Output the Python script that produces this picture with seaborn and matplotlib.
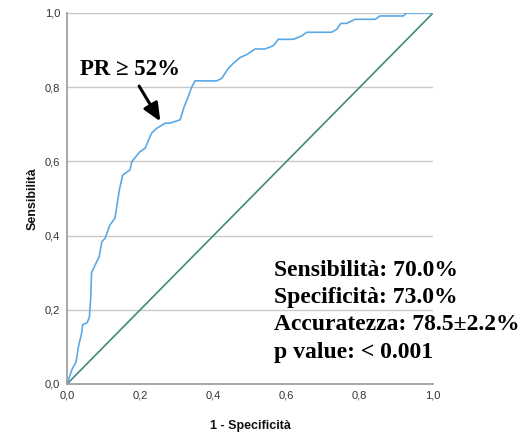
import matplotlib
matplotlib.use("Agg")
import matplotlib.pyplot as plt
import seaborn as sns
import pandas as pd

# ROC curve points (1 - specificity, sensitivity)
fpr = [0.0, 0.013, 0.025, 0.031, 0.040, 0.043, 0.055, 0.061, 0.065, 0.067, 0.079,
       0.088, 0.095, 0.104, 0.117, 0.131, 0.143, 0.152, 0.172, 0.177, 0.199, 0.213,
       0.231, 0.245, 0.268, 0.281, 0.309, 0.320, 0.331, 0.341, 0.350, 0.409, 0.423,
       0.441, 0.454, 0.473, 0.491, 0.514, 0.541, 0.564, 0.577, 0.618, 0.641, 0.655,
       0.723, 0.737, 0.748, 0.764, 0.787, 0.842, 0.855, 0.919, 0.928, 1.0]
tpr = [0.0, 0.038, 0.060, 0.100, 0.137, 0.160, 0.165, 0.180, 0.235, 0.300, 0.325,
       0.343, 0.383, 0.393, 0.428, 0.447, 0.523, 0.563, 0.577, 0.599, 0.626, 0.635,
       0.676, 0.689, 0.703, 0.703, 0.712, 0.747, 0.774, 0.801, 0.817, 0.817, 0.824,
       0.851, 0.864, 0.880, 0.888, 0.903, 0.903, 0.912, 0.929, 0.929, 0.938, 0.948,
       0.948, 0.956, 0.972, 0.972, 0.983, 0.983, 0.992, 0.992, 1.0, 1.0]

ref_x = [0.0, 1.0]
ref_y = [0.0, 1.0]

ticks = [0.0, 0.2, 0.4, 0.6, 0.8, 1.0]
tick_labels = ["0,0", "0,2", "0,4", "0,6", "0,8", "1,0"]

cutoff_label = "PR \u2265 52%"
cutoff_point = (0.255, 0.708)
stats_lines = ["Sensibilit\u00e0: 70.0%", "Specificit\u00e0: 73.0%",
               "Accuratezza: 78.5\u00b12.2%", "p value: < 0.001"]

sns.set_theme(style="white")
plt.rcParams["font.family"] = ["Liberation Sans", "DejaVu Sans"]

fig = plt.figure(figsize=(5.26, 4.36), dpi=100)
ax = fig.add_axes([0.1274, 0.1193, 0.6958, 0.8509])

roc = pd.DataFrame({"fpr": fpr, "tpr": tpr})
ref = pd.DataFrame({"x": ref_x, "y": ref_y})

for t in ticks[1:]:
    ax.plot([0, 1], [t, t], color="#c8c8c8", lw=1.0, zorder=0)

sns.lineplot(data=ref, x="x", y="y", ax=ax, color="#3f8a7c", lw=1.2,
             sort=False, estimator=None)
sns.lineplot(data=roc, x="fpr", y="tpr", ax=ax, color="#5aa9e6", lw=1.2,
             sort=False, estimator=None)

ax.set_xlim(0, 1)
ax.set_ylim(0, 1)
ax.set_xticks(ticks)
ax.set_xticklabels(tick_labels)
ax.set_yticks(ticks)
ax.set_yticklabels(tick_labels)
ax.tick_params(axis="both", labelsize=8, colors="#333333", length=3,
               width=0.8, pad=2)
ax.tick_params(axis="both", color="#999999")

for s in ["top", "right"]:
    ax.spines[s].set_visible(False)
for s in ["left", "bottom"]:
    ax.spines[s].set_color("#9a9a9a")
    ax.spines[s].set_linewidth(1.2)

ax.set_xlabel("1 - Specificit\u00e0", fontsize=9, fontweight="bold",
              color="#111111", labelpad=14)
ax.set_ylabel("Sensibilit\u00e0", fontsize=9, fontweight="bold",
              color="#111111", labelpad=4)

ax.annotate("", xy=cutoff_point, xytext=(0.197, 0.803),
            arrowprops=dict(arrowstyle="-|>,head_length=0.9,head_width=0.4",
                            color="black", lw=2.2, shrinkA=0, shrinkB=0))
ax.text(0.173, 0.847, cutoff_label, ha="center", va="center", color="black",
        fontsize=16.5, fontweight="bold", family=["Liberation Serif"])

for i, line in enumerate(stats_lines):
    ax.text(0.566, 0.307 - i * 0.074, line, ha="left", va="center",
            color="black", fontsize=17, fontweight="bold",
            family=["Liberation Serif"], clip_on=False)

fig.savefig("out.png", dpi=100)
